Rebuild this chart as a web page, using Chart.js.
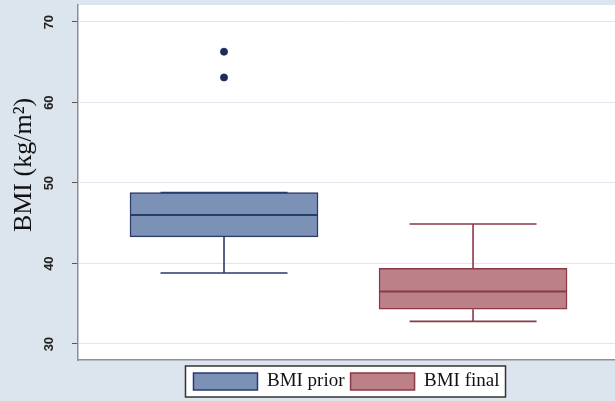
<!DOCTYPE html>
<html>
<head>
<meta charset="utf-8">
<script src="https://cdn.jsdelivr.net/npm/chart.js@4/dist/chart.umd.min.js"></script>
<style>
  html, body { margin: 0; padding: 0; background: #dce4ee; overflow: hidden; }
  canvas { display: block; }
</style>
</head>
<body>
<canvas id="boxChart" width="615" height="401"></canvas>
<script>
// box plot summary
const groups = ["BMI prior", "BMI final"];
const whiskerLow = [38.8, 32.8];
const q1 = [43.3, 34.3];
const median = [46.0, 36.5];
const q3 = [48.8, 39.4];
const whiskerHigh = [48.8, 44.9];
const outliers = [[63.1, 66.3], []];
const yTicks = [30, 40, 50, 60, 70];

const fills = ["#7b92b6", "#bc8089"];
const lines = ["#2b3a6b", "#8a3a47"];

/* background, white plot region, axis title, legend frame */
const bgPlugin = {
    id: "bg",
    beforeDraw(chart) {
        const ctx = chart.ctx, a = chart.chartArea;
        ctx.save();
        ctx.fillStyle = "#dce4ee";
        ctx.fillRect(0, 0, chart.width, chart.height);
        ctx.fillStyle = "#ffffff";
        ctx.fillRect(a.left, a.top, a.right - a.left, a.bottom - a.top);

        const boxes = chart.legend && chart.legend.legendHitBoxes;
        if (boxes && boxes.length) {
            const l = Math.min(...boxes.map(b => b.left)) - 8;
            const r = Math.max(...boxes.map(b => b.left + b.width)) + 6;
            const t = Math.min(...boxes.map(b => b.top)) - 6;
            const btm = Math.max(...boxes.map(b => b.top + b.height)) + 6;
            ctx.fillRect(l, t, r - l, btm - t);
            ctx.strokeStyle = "#333";
            ctx.lineWidth = 1.5;
            ctx.strokeRect(l, t, r - l, btm - t);
        }

        ctx.translate(24, 165);
        ctx.rotate(-Math.PI / 2);
        ctx.fillStyle = "#111";
        ctx.font = "26px 'Liberation Serif'";
        ctx.textAlign = "center";
        ctx.textBaseline = "middle";
        ctx.fillText("BMI (kg/m\u00B2)", 0, 0);
        ctx.restore();
    }
};

/* medians, whiskers, caps */
const boxPlugin = {
    id: "boxes",
    afterDatasetsDraw(chart) {
        const ctx = chart.ctx;
        const xs = chart.scales.x, ys = chart.scales.y;
        ctx.save();
        groups.forEach((g, i) => {
            const cx = xs.getPixelForValue(i + 1);
            const half = chart.getDatasetMeta(i).data[0].width / 2;
            const capL = xs.getPixelForValue(i + 1 - 0.255);
            const capR = xs.getPixelForValue(i + 1 + 0.255);
            ctx.strokeStyle = lines[i];
            ctx.lineWidth = 1.6;
            ctx.beginPath();
            ctx.moveTo(cx, ys.getPixelForValue(q3[i]));
            ctx.lineTo(cx, ys.getPixelForValue(whiskerHigh[i]));
            ctx.moveTo(cx, ys.getPixelForValue(q1[i]));
            ctx.lineTo(cx, ys.getPixelForValue(whiskerLow[i]));
            ctx.moveTo(capL, ys.getPixelForValue(whiskerHigh[i]));
            ctx.lineTo(capR, ys.getPixelForValue(whiskerHigh[i]));
            ctx.moveTo(capL, ys.getPixelForValue(whiskerLow[i]));
            ctx.lineTo(capR, ys.getPixelForValue(whiskerLow[i]));
            ctx.stroke();
            ctx.lineWidth = 2;
            ctx.beginPath();
            ctx.moveTo(cx - half, ys.getPixelForValue(median[i]));
            ctx.lineTo(cx + half, ys.getPixelForValue(median[i]));
            ctx.stroke();
        });
        ctx.restore();
    }
};

const datasets = groups.map((g, i) => ({
    type: "bar",
    label: g,
    data: [{ x: i + 1, y: [q1[i], q3[i]] }],
    backgroundColor: fills[i],
    borderColor: lines[i],
    borderWidth: 1.5,
    borderSkipped: false,
    barThickness: 188,
    grouped: false,
    order: 2
}));

datasets.push({
    type: "scatter",
    label: "outliers",
    data: outliers.flatMap((arr, i) => arr.map(v => ({ x: i + 1, y: v }))),
    backgroundColor: "#1f2b5c",
    borderColor: "#1f2b5c",
    pointRadius: 3.5,
    order: 1
});

new Chart(document.getElementById("boxChart"), {
    data: { datasets: datasets },
    plugins: [bgPlugin, boxPlugin],
    options: {
        responsive: false,
        animation: false,
        layout: { autoPadding: false, padding: { left: 0, top: 5, right: 0, bottom: 0 } },
        plugins: {
            tooltip: { enabled: false },
            legend: {
                position: "bottom",
                fullSize: false,
                labels: {
                    filter: item => item.text !== "outliers",
                    boxWidth: 64,
                    boxHeight: 17,
                    padding: 6,
                    color: "#111",
                    font: { family: "'Liberation Serif'", size: 19 }
                }
            }
        },
        scales: {
            x: {
                type: "linear",
                offset: false,
                min: 0.4137,
                max: 2.570,
                grid: { display: false },
                ticks: { display: false },
                border: { display: true, color: "#8c8e98", width: 1.5 },
                afterFit: s => { s.height = 6; s.paddingLeft = 0; s.paddingRight = 0; }
            },
            y: {
                min: 28,
                max: 72.1,
                afterBuildTicks: s => { s.ticks = yTicks.map(v => ({ value: v })); },
                afterFit: s => { s.width = 78; s.paddingTop = 0; s.paddingBottom = 0; },
                grid: { color: "#e1e6ee", lineWidth: 1, tickColor: "#555", tickLength: 6 },
                border: { display: true, color: "#8c8e98", width: 1.5 },
                ticks: {
                    minRotation: 90,
                    maxRotation: 90,
                    padding: 23,
                    labelOffset: -7,
                    color: "#222",
                    font: { family: "'Liberation Sans'", size: 13, weight: "bold" }
                }
            }
        }
    }
});
</script>
</body>
</html>
